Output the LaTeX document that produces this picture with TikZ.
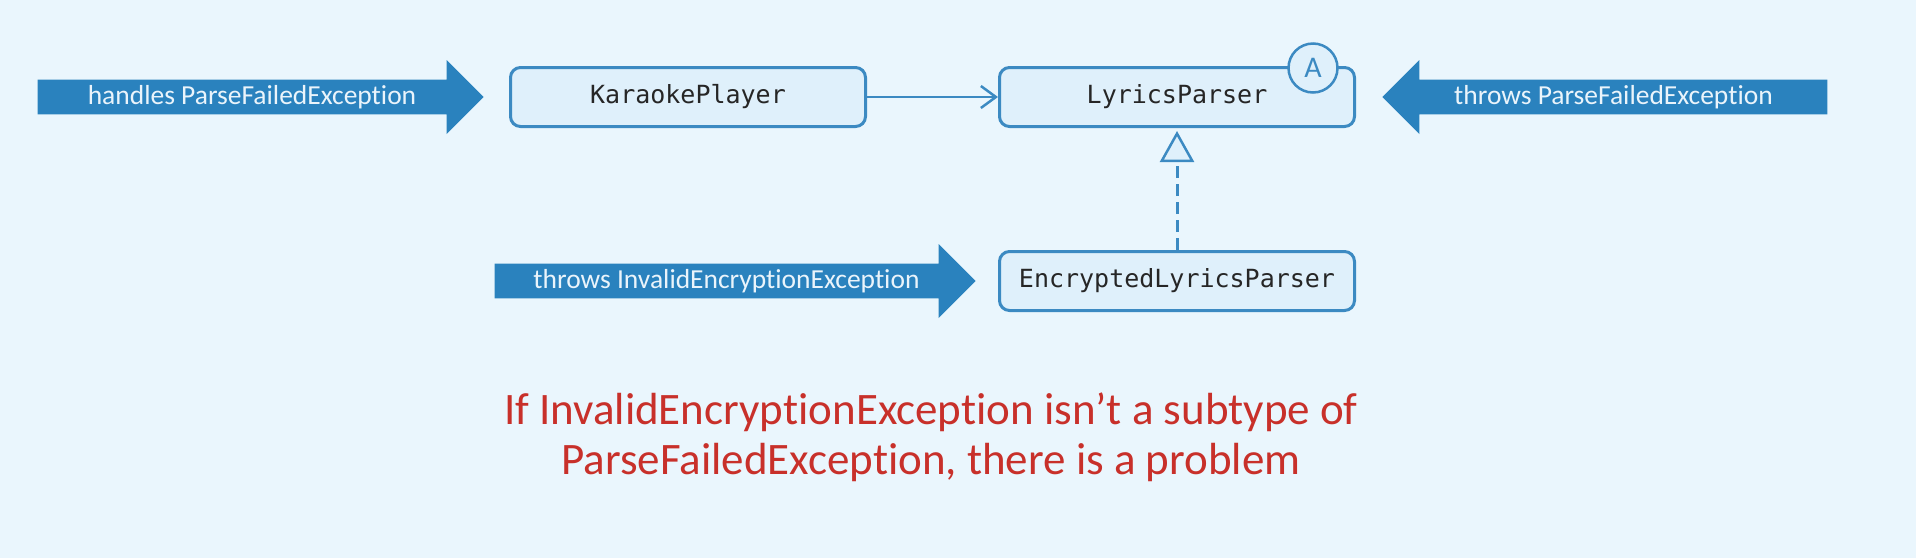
\documentclass[tikz,border=0pt]{standalone}
\usepackage{fontspec}
\setmainfont{Carlito}[Ligatures=NoCommon]
\newfontfamily\codefont{DejaVu Sans Mono}
\usepackage{tikz}
\usetikzlibrary{shapes.arrows, arrows.meta, positioning, calc}

\definecolor{bgblue}{HTML}{EAF6FD}
\definecolor{boxfill}{HTML}{DFF0FB}
\definecolor{boxline}{HTML}{3C8AC2}
\definecolor{bigblue}{HTML}{2A82BE}
\definecolor{arrowtext}{HTML}{EAF4FB}
\definecolor{probred}{HTML}{C8302A}

\begin{document}
\begin{tikzpicture}[
    x=1pt, y=-1pt,
    % --- STYLES ---
    classbox/.style={
        rectangle, rounded corners=10pt,
        draw=boxline, fill=boxfill, line width=3pt,
        minimum width=355pt, minimum height=59pt,
        font=\codefont\fontsize{25}{30}\selectfont, text=black!85
    },
    bigarrow/.style={
        single arrow, fill=bigblue, draw=none,
        single arrow head extend=18pt,
        minimum width=74pt, inner sep=4pt,
        font=\fontsize{27.5}{32}\selectfont, text=arrowtext
    },
    abstractmark/.style={
        circle, draw=boxline, fill=boxfill, line width=2.5pt,
        minimum size=49pt, inner sep=0pt,
        text=boxline, font=\fontsize{30}{32}\selectfont
    },
    uses/.style={draw=boxline, line width=2.5pt,
        -{Straight Barb[length=15pt, width=22pt, line width=2.5pt]}},
    realizes/.style={draw=boxline, line width=3pt, dash pattern=on 12pt off 6pt,
        -{Triangle[fill=boxfill, length=31pt, width=34pt, line width=2.5pt]}}
]

% ===== 1. BACKGROUND =====
\fill[bgblue] (0,0) rectangle (1916,558);
\useasboundingbox (0,0) rectangle (1916,558);

% ===== 2. CLASSES =====
\node[classbox] (kp) at (688,97) {KaraokePlayer};
\node[classbox] (lp) at (1177,97) {LyricsParser};
\node[classbox] (elp) at (1177,281) {EncryptedLyricsParser};

% abstract marker
\node[abstractmark] (abs) at ($(lp.north east)+(-43,2)$) {A};

% ===== 3. EXCEPTION ARROWS =====
\node[bigarrow, minimum height=446pt, left=25pt of kp, anchor=tip] (handles) {handles ParseFailedException};
\node[bigarrow, minimum height=445pt, shape border rotate=180, right=26pt of lp, anchor=tip] (throwspf) {throws ParseFailedException};
\node[bigarrow, minimum height=481pt, left=22pt of elp, anchor=tip] (throwsie) {throws InvalidEncryptionException};

% ===== 4. CONNECTIONS =====
\draw[uses] (kp) -- (lp);
\draw[realizes, shorten >=3pt] (elp) -- (lp);

% ===== 5. NOTE =====
\node[text=probred, font=\fontsize{45}{50}\selectfont, align=center] (problem) at (931,437)
    {If InvalidEncryptionException isn’t a subtype of\\ParseFailedException, there is a problem};

\end{tikzpicture}
\end{document}
